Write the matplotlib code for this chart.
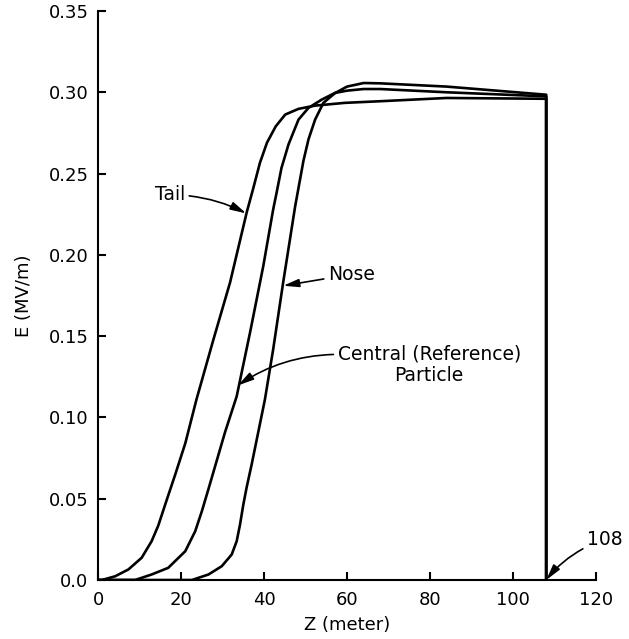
import matplotlib
matplotlib.use("Agg")
import matplotlib.pyplot as plt

# ---- data ----
tail_z = [0, 0.9, 4.1, 7.3, 10.5, 12.9, 14.5, 16.5, 18.6, 21, 23.7, 27.8, 31.8, 35.8, 37.4,
          39.0, 40.7, 42.8, 45.1, 48.3, 52.3, 59.5, 68, 84, 108, 108]
tail_E = [0, 0, 0.0023, 0.0065, 0.0137, 0.0239, 0.0335, 0.049, 0.065, 0.084, 0.111, 0.148,
          0.183, 0.226, 0.241, 0.2566, 0.269, 0.279, 0.2863, 0.2898, 0.2918, 0.2935, 0.2945,
          0.2965, 0.296, 0]

central_z = [0, 8.9, 12.9, 16.9, 21, 23.4, 25, 26.6, 28.2, 30.6, 33.4, 36.6, 39.8, 42.2, 43.0,
             44.2, 45.9, 48.3, 50.7, 53.9, 57.1, 60, 64, 68, 84, 108, 108]
central_E = [0, 0, 0.0034, 0.0075, 0.0177, 0.030, 0.0423, 0.056, 0.070, 0.091, 0.113, 0.152,
             0.193, 0.228, 0.238, 0.2535, 0.268, 0.2832, 0.2904, 0.2955, 0.2996, 0.301, 0.302,
             0.302, 0.300, 0.2975, 0]

nose_z = [0, 22.6, 26.6, 29.8, 32.2, 33.4, 34.2, 35, 35.8, 37, 38.6, 40.2, 42.2, 44.6, 47.5,
          49.5, 50.7, 52.3, 54.3, 57.1, 60, 64, 68, 84, 108, 108]
nose_E = [0, 0, 0.0034, 0.0085, 0.0157, 0.0239, 0.0341, 0.0464, 0.057, 0.071, 0.091, 0.111,
          0.142, 0.183, 0.230, 0.258, 0.271, 0.2832, 0.2935, 0.2995, 0.3035, 0.3057, 0.3055,
          0.3035, 0.2985, 0]

x_ticks = [0, 20, 40, 60, 80, 100, 120]
y_ticks = [0.0, 0.05, 0.10, 0.15, 0.20, 0.25, 0.30, 0.35]
y_tick_labels = ["0.0", "0.05", "0.10", "0.15", "0.20", "0.25", "0.30", "0.35"]
exit_z = 108

plt.rcParams['font.family'] = ['DejaVu Sans']
fig = plt.figure(figsize=(6.29, 6.39), dpi=100)
ax = fig.add_axes([0.156, 0.0923, 0.7915, 0.8905])

lw = 1.9
for z, e in [(tail_z, tail_E), (central_z, central_E), (nose_z, nose_E)]:
    ax.plot(z, e, color='black', lw=lw, solid_joinstyle='round')

ax.set_xlim(0, 120)
ax.set_ylim(0, 0.35)
ax.set_xticks(x_ticks)
ax.set_yticks(y_ticks)
ax.set_yticklabels(y_tick_labels)
for s in ['top', 'right']:
    ax.spines[s].set_visible(False)
for s in ['left', 'bottom']:
    ax.spines[s].set_linewidth(1.5)
ax.tick_params(direction='in', length=6, width=1.5, labelsize=13)
ax.tick_params(axis='y', pad=7)
ax.tick_params(axis='x', pad=8)
ax.set_xlabel("Z (meter)", fontsize=13, labelpad=5)
ax.set_ylabel("E (MV/m)", fontsize=13, labelpad=11)

ap = dict(arrowstyle='-|>,head_length=0.7,head_width=0.18', color='black', lw=1.2,
          shrinkA=1, shrinkB=0)
fs = 13.5

ax.annotate("Tail", xy=(35.7, 0.2255), xytext=(17.3, 0.237), fontsize=fs,
            ha='center', va='center',
            arrowprops=dict(ap, connectionstyle="arc3,rad=-0.12"))
ax.annotate("Nose", xy=(44.6, 0.181), xytext=(55.4, 0.188), fontsize=fs,
            ha='left', va='center',
            arrowprops=dict(ap, connectionstyle="arc3,rad=0.0"))
ax.annotate("Central (Reference)\nParticle", xy=(33.7, 0.1197), xytext=(79.8, 0.1325),
            fontsize=fs, ha='center', va='center', linespacing=1.2,
            arrowprops=dict(ap, connectionstyle="arc3,rad=0.15",
                            relpos=(0.0, 0.75)))
ax.annotate(str(exit_z), xy=(exit_z, 0.0), xytext=(117.8, 0.025), fontsize=fs,
            ha='left', va='center',
            arrowprops=dict(ap, connectionstyle="arc3,rad=0.15"))

fig.savefig("out.png", dpi=100)
